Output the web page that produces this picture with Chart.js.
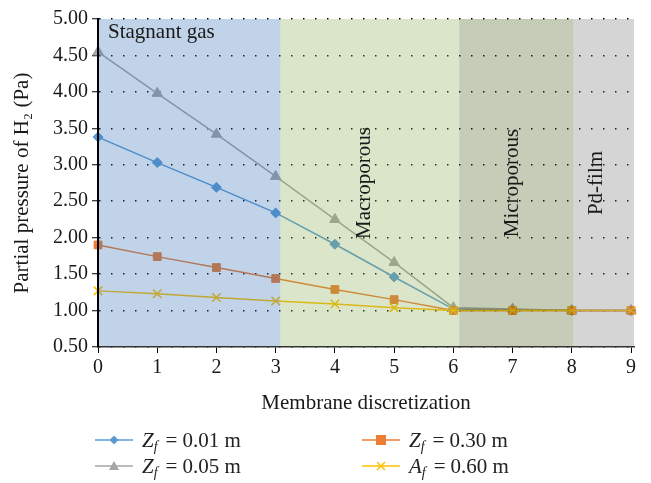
<!DOCTYPE html>
<html>
<head>
<meta charset="utf-8">
<script src="https://cdn.jsdelivr.net/npm/chart.js@4.4.1/dist/chart.umd.min.js"></script>
<style>
body { margin: 0; background: #fff; }
#wrap { position: relative; width: 651px; height: 483px; }
#grafico { position: absolute; left: 0; top: 0; }
.legenda { position: absolute; font-family: 'Liberation Serif', serif; font-size: 21px; color: #222; display: flex; align-items: center; white-space: nowrap; height: 26px; }
.legenda svg { margin-right: 9px; }
.legenda sub { font-size: 14px; position: relative; top: 4px; vertical-align: baseline; }
.legenda .eq { margin: 0 5px 0 8px; }
</style>
</head>
<body>
<div id="wrap">
  <canvas id="grafico" width="651" height="483"></canvas>
  <div class="legenda" style="left:95px;top:427px">
    <svg width="38" height="12"><line x1="0" y1="6" x2="38" y2="6" stroke="#5B9BD5" stroke-width="1.5"/><path d="M19 1.5 L23.5 6 L19 10.5 L14.5 6 Z" fill="#5B9BD5"/></svg>
    <span><i>Z</i><sub><i>f</i></sub><span class="eq">=</span>0.01 m</span>
  </div>
  <div class="legenda" style="left:95px;top:453px">
    <svg width="38" height="12"><line x1="0" y1="6" x2="38" y2="6" stroke="#A5A5A5" stroke-width="1.5"/><path d="M19 1 L24 10 L14 10 Z" fill="#A5A5A5"/></svg>
    <span><i>Z</i><sub><i>f</i></sub><span class="eq">=</span>0.05 m</span>
  </div>
  <div class="legenda" style="left:362px;top:427px">
    <svg width="38" height="12"><line x1="0" y1="6" x2="38" y2="6" stroke="#ED7D31" stroke-width="1.5"/><rect x="14" y="1" width="10" height="10" fill="#ED7D31"/></svg>
    <span><i>Z</i><sub><i>f</i></sub><span class="eq">=</span>0.30 m</span>
  </div>
  <div class="legenda" style="left:362px;top:453px">
    <svg width="38" height="12"><line x1="0" y1="6" x2="38" y2="6" stroke="#FFC000" stroke-width="1.5"/><path d="M15 2 L23 10 M23 2 L15 10" stroke="#FFC000" stroke-width="1.5"/></svg>
    <span><i>A</i><sub><i>f</i></sub><span class="eq">=</span>0.60 m</span>
  </div>
</div>
<script>
// pontos da discretização da membrana
const posicoes = [0, 1, 2, 3, 4, 5, 6, 7, 8, 9];
const zf001 = [3.38, 3.03, 2.69, 2.34, 1.91, 1.46, 1.02, 1.01, 1.00, 1.00];
const zf005 = [4.55, 3.98, 3.42, 2.84, 2.25, 1.66, 1.04, 1.02, 1.00, 1.00];
const zf030 = [1.90, 1.74, 1.59, 1.44, 1.29, 1.15, 1.00, 1.00, 1.00, 1.00];
const af060 = [1.27, 1.23, 1.18, 1.13, 1.09, 1.04, 1.00, 1.00, 1.00, 1.00];
const yTicks = [0.5, 1.0, 1.5, 2.0, 2.5, 3.0, 3.5, 4.0, 4.5, 5.0];
const xTicks = [0, 1, 2, 3, 4, 5, 6, 7, 8, 9];

// regiões da membrana (limites no eixo x)
const regioes = ['Stagnant gas', 'Macroporous', 'Microporous', 'Pd-film'];
const limites = [0, 3.08, 6.1, 8.03, 9.05];

const serif = "'Liberation Serif', 'DejaVu Serif', serif";
const pontos = (ys) => posicoes.map((x, i) => ({ x: x, y: ys[i] }));

// faixas coloridas desenhadas por cima das séries (semi-transparentes)
const faixasPlugin = {
    id: 'faixas',
    afterDatasetsDraw(chart) {
        const { ctx, chartArea, scales: { x } } = chart;
        const cores = ['rgb(48,108,178)', 'rgb(132,168,75)', 'rgb(62,85,18)', 'rgb(115,115,115)'];
        ctx.save();
        ctx.globalAlpha = 0.3;
        for (let i = 0; i < regioes.length; i++) {
            const a = x.getPixelForValue(limites[i]);
            const b = x.getPixelForValue(limites[i + 1]);
            ctx.fillStyle = cores[i];
            ctx.fillRect(a, chartArea.top, b - a, chartArea.height);
        }
        ctx.restore();

        ctx.save();
        ctx.fillStyle = '#1a1a1a';
        ctx.font = "21px " + serif;
        ctx.textBaseline = 'alphabetic';
        ctx.fillText(regioes[0], x.getPixelForValue(0) + 10, chartArea.top + 19);
        const centros = [4.5, 7.0, 8.42];
        const meioY = (chartArea.top + chartArea.bottom) / 2;
        ctx.textAlign = 'center';
        ctx.textBaseline = 'middle';
        for (let i = 1; i < regioes.length; i++) {
            ctx.save();
            ctx.translate(x.getPixelForValue(centros[i - 1]), meioY);
            ctx.rotate(-Math.PI / 2);
            ctx.fillText(regioes[i], 0, 0);
            ctx.restore();
        }
        ctx.restore();
    }
};

const config = {
    type: 'line',
    data: {
        datasets: [
            {
                label: 'Zf = 0.01 m', data: pontos(zf001), order: 3,
                borderColor: '#5B9BD5', backgroundColor: '#5B9BD5',
                pointStyle: 'rectRot', pointRadius: 5
            },
            {
                label: 'Zf = 0.30 m', data: pontos(zf030), order: 1,
                borderColor: '#ED7D31', backgroundColor: '#ED7D31',
                pointStyle: 'rect', pointRadius: 5.5
            },
            {
                label: 'Zf = 0.05 m', data: pontos(zf005), order: 2,
                borderColor: '#A5A5A5', backgroundColor: '#A5A5A5',
                pointStyle: 'triangle', pointRadius: 6
            },
            {
                label: 'Af = 0.60 m', data: pontos(af060), order: 0,
                borderColor: '#FFC000', backgroundColor: '#FFC000',
                pointStyle: 'crossRot', pointRadius: 6, pointBorderWidth: 1.5
            }
        ]
    },
    options: {
        responsive: false,
        animation: false,
        layout: { padding: { left: 0, top: 19, right: 17, bottom: 66 } },
        elements: {
            line: { borderWidth: 1.5, tension: 0 },
            point: { borderWidth: 1, hoverRadius: 5 }
        },
        datasets: { line: { clip: false } },
        plugins: {
            legend: { display: false },
            tooltip: { enabled: false }
        },
        scales: {
            x: {
                type: 'linear',
                min: 0,
                max: limites[limites.length - 1],
                afterBuildTicks: (s) => { s.ticks = xTicks.map(v => ({ value: v })); },
                afterFit: (s) => { s.height = 70; },
                ticks: { color: '#1a1a1a', font: { family: serif, size: 20 }, padding: 3 },
                grid: { drawOnChartArea: false, drawTicks: true, tickLength: 6, tickColor: '#000', tickWidth: 1 },
                border: { display: true, color: '#333', width: 1.5, z: 1 },
                title: {
                    display: true, text: 'Membrane discretization', color: '#1a1a1a',
                    font: { family: serif, size: 21 }, padding: { top: 0, bottom: 1 }
                }
            },
            y: {
                min: 0.5,
                max: 5,
                afterBuildTicks: (s) => { s.ticks = yTicks.map(v => ({ value: v })); },
                afterFit: (s) => { s.width = 98; },
                ticks: {
                    color: '#1a1a1a', font: { family: serif, size: 20 }, padding: 4,
                    callback: (v) => Number(v).toFixed(2)
                },
                grid: {
                    color: '#000', lineWidth: 1.5,
                    tickLength: 6, tickColor: '#000', tickBorderDash: [], tickWidth: 1
                },
                border: { display: true, color: '#000', width: 2, z: 1, dash: [1.5, 10.5] },
                title: {
                    display: true, text: 'Partial pressure of H\u2082 (Pa)', color: '#1a1a1a',
                    font: { family: serif, size: 21 }, padding: { top: 10, bottom: 0 }
                }
            }
        }
    },
    plugins: [faixasPlugin]
};

const ctx = document.getElementById('grafico').getContext('2d');
const grafico = new Chart(ctx, config);
</script>
</body>
</html>
